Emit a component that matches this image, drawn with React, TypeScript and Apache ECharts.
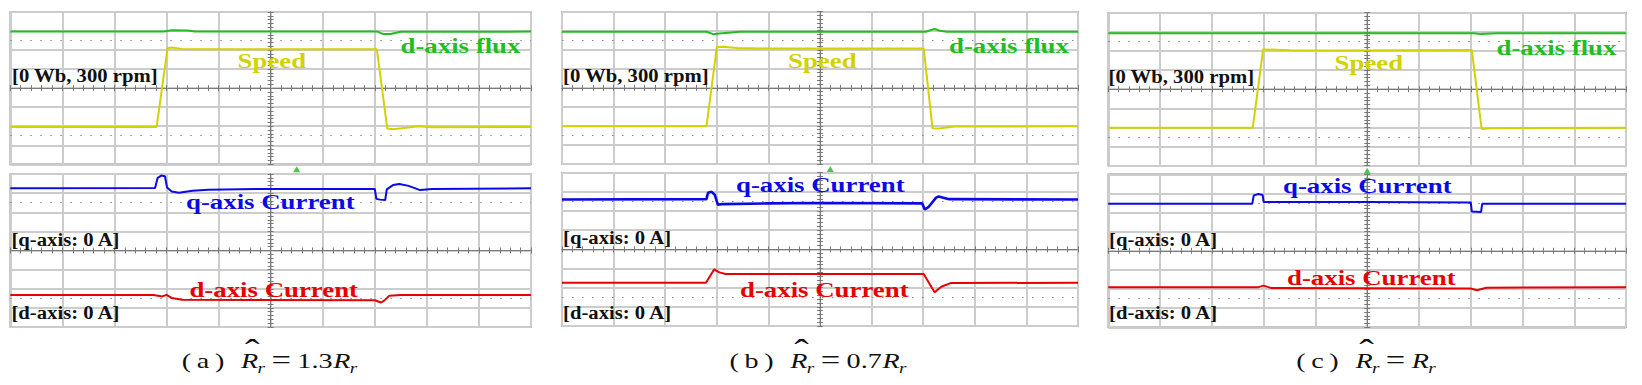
import React, { useEffect, useRef } from 'react';
import * as echarts from 'echarts';

// x: time in screen divisions (-5 … 5), y: trace level in vertical divisions (-4 … 4)
const fluxA: [number, number][] = [[-5, 2.97], [-2.05, 2.97], [-1.9, 3.04], [-1.6, 3.03], [-1.45, 2.97], [2.05, 2.97], [2.15, 2.85], [2.3, 2.84], [2.5, 2.96], [5, 2.97]];
const speedA: [number, number][] = [[-5, -2.04], [-2.19, -2.04], [-1.98, 2.1], [-1.9, 2.13], [-1.7, 2.06], [-1.3, 2.04], [2.04, 2.04], [2.24, -2.12], [2.35, -2.16], [2.6, -2.08], [2.84, -2.0], [3.1, -2.05], [5, -2.04]];
const iqA: [number, number][] = [[-5, 3.25], [-2.22, 3.27], [-2.17, 3.8], [-2.1, 3.92], [-2.03, 3.88], [-1.99, 3.3], [-1.9, 3.08], [-1.76, 3.02], [-1.5, 3.12], [-1.2, 3.18], [0, 3.22], [2.0, 3.22], [2.03, 2.7], [2.1, 2.66], [2.2, 2.64], [2.23, 3.2], [2.35, 3.42], [2.47, 3.48], [2.65, 3.38], [2.87, 3.16], [3.1, 3.22], [5, 3.25]];
const idA: [number, number][] = [[-5, -2.33], [-2.25, -2.33], [-2.08, -2.4], [-2.0, -2.32], [-1.9, -2.48], [-1.7, -2.58], [2.0, -2.6], [2.12, -2.72], [2.18, -2.62], [2.28, -2.36], [2.5, -2.33], [5, -2.33]];

const fluxB: [number, number][] = [[-5, 2.95], [-2.2, 2.95], [-2.07, 2.82], [-1.95, 2.86], [-1.55, 2.95], [2.05, 2.95], [2.22, 3.1], [2.32, 3.0], [2.46, 2.95], [5, 2.95]];
const speedB: [number, number][] = [[-5, -2.02], [-2.2, -2.02], [-2.0, 2.14], [-1.9, 2.16], [-1.6, 2.09], [-1.0, 2.07], [2.01, 2.07], [2.18, -2.12], [2.3, -2.13], [2.6, -2.03], [5, -2.02]];
const iqB: [number, number][] = [[-5, 2.6], [-2.2, 2.62], [-2.17, 2.95], [-2.1, 3.0], [-2.04, 2.85], [-1.98, 2.33], [-1.9, 2.36], [-1.0, 2.4], [0, 2.42], [1.98, 2.4], [2.03, 2.08], [2.1, 2.2], [2.25, 2.7], [2.3, 2.76], [2.5, 2.62], [5, 2.6]];
const idB: [number, number][] = [[-5, -1.74], [-2.21, -1.74], [-2.05, -1.04], [-1.95, -1.2], [-1.83, -1.29], [2.01, -1.29], [2.22, -2.24], [2.35, -1.95], [2.53, -1.76], [5, -1.74]];

const fluxC: [number, number][] = [[-5, 2.93], [2.05, 2.93], [2.2, 2.88], [2.5, 2.93], [5, 2.93]];
const speedC: [number, number][] = [[-5, -2.01], [-2.21, -2.01], [-2.01, 2.08], [-1.5, 2.04], [-0.5, 2.03], [2.02, 2.05], [2.21, -2.08], [2.4, -2.04], [5, -2.01]];
const iqC: [number, number][] = [[-5, 2.46], [-2.22, 2.46], [-2.19, 2.9], [-2.1, 2.97], [-2.02, 2.92], [-2.0, 2.55], [0, 2.55], [2.0, 2.53], [2.02, 2.05], [2.2, 2.03], [2.22, 2.46], [5, 2.46]];
const idC: [number, number][] = [[-5, -1.9], [-2.1, -1.9], [-2.0, -1.82], [-1.85, -1.95], [2.0, -1.97], [2.12, -2.06], [2.3, -1.93], [5, -1.9]];

const triggerPos = [0.5, 0.2, 0.0];
const dottedLevels = [2.5, -2.5];
const captionLetters = ['a', 'b', 'c'];
const captionFactors = ['1.3', '0.7', ''];
const refLabelTop = '[0 Wb, 300 rpm]';
const refLabelQ = '[q-axis: 0 A]';
const refLabelD = '[d-axis: 0 A]';
const nameSpeed = 'Speed';
const nameFlux = 'd-axis flux';
const nameIq = 'q-axis Current';
const nameId = 'd-axis Current';

const COL = { flux: '#1fbf1f', speed: '#d2d200', iq: '#0a0ae6', id: '#e80000' };
const FAM = '"Liberation Serif", "Times New Roman", serif';

const panels = [
  { flux: fluxA, speed: speedA, iq: iqA, id: idA, left: 10.3, width: 520.7, tops: [12, 174], heights: [152.3, 153], cap: 269.5,
    lab: { ref0: [12, 75.2], speed: [237.6, 60.5], flux: [400.5, 45.7], iq: [186, 201.8], qref: [11.4, 239.3], id: [189.4, 289], dref: [11.4, 312.8] } },
  { flux: fluxB, speed: speedB, iq: iqB, id: idB, left: 562, width: 516, tops: [11.7, 172.7], heights: [152.3, 153.3], cap: 818,
    lab: { ref0: [563, 75.2], speed: [788, 60], flux: [949, 45.5], iq: [736, 184], qref: [563, 237.7], id: [740, 289], dref: [563, 312.8] } },
  { flux: fluxC, speed: speedC, iq: iqC, id: idC, left: 1108.3, width: 517.8, tops: [12.7, 174.3], heights: [153, 153], cap: 1366,
    lab: { ref0: [1108.5, 76.5], speed: [1334.6, 62], flux: [1496.5, 47], iq: [1283, 185], qref: [1109, 239], id: [1287, 277], dref: [1109, 312.8] } },
];

const tickStyle = { color: '#7a7a7a', width: 1 };

let measureCtx: CanvasRenderingContext2D | null = null;
function textWidth(text: string, size: number, italic: boolean) {
  if (!measureCtx) measureCtx = document.createElement('canvas').getContext('2d');
  if (!measureCtx) return text.length * size * 0.5;
  measureCtx.font = `${italic ? 'italic ' : ''}${size}px ${FAM}`;
  return measureCtx.measureText(text).width;
}

function captionGraphics(k: number, cx: number) {
  const S = 1.28;
  const cy = 360.5;
  const pieces: any[] = [
    { t: `(\u2009${captionLetters[k]}\u2009)`, fs: 22, it: false, dy: 0, gap: 13 },
    { t: 'R', fs: 22, it: true, dy: 0, gap: -0.5, hat: true },
    { t: 'r', fs: 15, it: true, dy: 7.8, gap: 5 },
    { t: '=', fs: 27, it: false, dy: -0.5, gap: 5 },
  ];
  if (captionFactors[k]) pieces.push({ t: captionFactors[k], fs: 22, it: false, dy: 0, gap: 0.5 });
  pieces.push({ t: 'R', fs: 22, it: true, dy: 0, gap: -0.5 });
  pieces.push({ t: 'r', fs: 15, it: true, dy: 7.8, gap: 0 });
  let total = 0;
  pieces.forEach((p, i) => { p.w = textWidth(p.t, p.fs, p.it); total += p.w + (i < pieces.length - 1 ? p.gap : 0); });
  let x = cx - (total * S) / 2;
  const out: any[] = [];
  pieces.forEach((p) => {
    out.push({
      type: 'text', x, y: cy + p.dy, scaleX: S, z: 20, silent: true,
      style: { text: p.t, fill: '#111111', fontFamily: FAM, fontSize: p.fs, fontStyle: p.it ? 'italic' : 'normal',
        align: 'left', verticalAlign: 'middle', textAlign: 'left', textVerticalAlign: 'middle' },
    });
    if (p.hat) {
      out.push({
        type: 'text', x: x + (p.w / 2 + 2) * S, y: cy - 9, scaleX: S, z: 20, silent: true,
        style: { text: '\u02C6', fill: '#111111', fontFamily: FAM, fontSize: 34,
          align: 'center', verticalAlign: 'middle', textAlign: 'center', textVerticalAlign: 'middle' },
      });
    }
    x += (p.w + p.gap) * S;
  });
  return out;
}

function buildOption() {
  const grid: any[] = [];
  const xAxis: any[] = [];
  const yAxis: any[] = [];
  const series: any[] = [];
  const graphic: any[] = [];

  panels.forEach((p, k) => {
    [0, 1].forEach((sub) => {
      const gi = k * 2 + sub;
      grid.push({ left: p.left, top: p.tops[sub], width: p.width, height: p.heights[sub], show: true,
        borderColor: '#8a8a8a', borderWidth: 1.5, backgroundColor: '#ffffff', containLabel: false });
      const common = {
        gridIndex: gi, type: 'value', axisLabel: { show: false },
        axisLine: { show: true, onZero: true, lineStyle: tickStyle },
        axisTick: { show: true, length: 3, lineStyle: tickStyle },
        minorTick: { show: true, splitNumber: 5, length: 3, lineStyle: tickStyle },
      };
      xAxis.push({ ...common, min: -5, max: 5, interval: 1, position: 'bottom',
        splitLine: { show: true, lineStyle: { color: '#cccccc', width: 2 } } });
      xAxis.push({ ...common, min: -5, max: 5, interval: 1, position: 'top', splitLine: { show: false } });
      yAxis.push({ ...common, min: -4, max: 4, interval: 1, position: 'left',
        splitLine: { show: true, lineStyle: { color: '#cccccc', width: 2 } } });
      yAxis.push({ ...common, min: -4, max: 4, interval: 1, position: 'right', splitLine: { show: false } });

      const pair = sub === 0
        ? [{ name: nameFlux, data: p.flux, color: COL.flux }, { name: nameSpeed, data: p.speed, color: COL.speed }]
        : [{ name: nameIq, data: p.iq, color: COL.iq, w: k === 1 ? 2.6 : 2 }, { name: nameId, data: p.id, color: COL.id }];
      pair.forEach((s: any, j) => {
        series.push({
          type: 'line', name: s.name, xAxisIndex: gi * 2, yAxisIndex: gi * 2, data: s.data,
          showSymbol: false, symbol: 'none', z: 5,
          lineStyle: { color: s.color, width: s.w || 2 }, itemStyle: { color: s.color },
          markLine: j === 0 ? {
            silent: true, symbol: 'none', label: { show: false }, animation: false,
            lineStyle: { type: [1.5, 8.5], color: '#8a8a8a', width: 1.2 },
            data: dottedLevels.map((v) => ({ yAxis: v })),
          } : undefined,
        });
      });
    });

    series.push({
      type: 'scatter', xAxisIndex: k * 4, yAxisIndex: k * 4, data: [[triggerPos[k], -4]],
      symbol: 'triangle', symbolSize: [7, 6], symbolOffset: [0, 5], clip: false, z: 10,
      itemStyle: { color: '#22b822' }, silent: true,
    });

    const addLabel = (text: string, pos: number[], color: string, size: number, sx: number) => {
      graphic.push({
        type: 'text', x: pos[0], y: pos[1], scaleX: sx, z: 20, silent: true,
        style: {
          text, fill: color, fontFamily: FAM, fontWeight: 'bold', fontSize: size,
          align: 'left', verticalAlign: 'middle', textAlign: 'left', textVerticalAlign: 'middle',
        },
      });
    };
    addLabel(refLabelTop, p.lab.ref0, '#111111', 19, 1.09);
    addLabel(refLabelQ, p.lab.qref, '#111111', 19, 1.09);
    addLabel(refLabelD, p.lab.dref, '#111111', 19, 1.09);
    addLabel(nameSpeed, p.lab.speed, COL.speed, 22, 1.22);
    addLabel(nameFlux, p.lab.flux, COL.flux, 22, 1.22);
    addLabel(nameIq, p.lab.iq, COL.iq, 22, 1.22);
    addLabel(nameId, p.lab.id, COL.id, 22, 1.22);

    graphic.push(...captionGraphics(k, p.cap));
  });

  return { animation: false, backgroundColor: '#ffffff', grid, xAxis, yAxis, series, graphic };
}

export default function App() {
  const ref = useRef<HTMLDivElement>(null);
  useEffect(() => {
    const chart = echarts.init(ref.current!, null, { renderer: 'svg' });
    chart.setOption(buildOption() as any);
    return () => chart.dispose();
  }, []);
  return <div ref={ref} style={{ position: 'absolute', left: 0, top: 0, width: 1642, height: 385, background: '#fff' }} />;
}
